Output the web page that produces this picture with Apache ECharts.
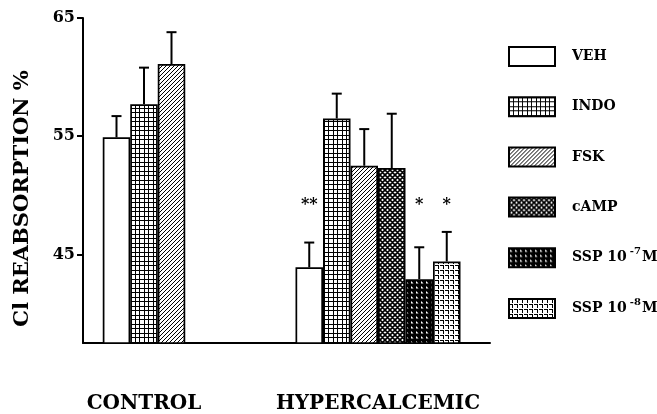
<!DOCTYPE html>
<html><head><meta charset="utf-8">
<script src="https://cdn.jsdelivr.net/npm/echarts@6/dist/echarts.min.js"></script>
<style>html,body{margin:0;padding:0;background:#fff}#c{width:657px;height:414px}</style>
</head><body><div id="c"></div>
<script>
// ---- data ----
const groups = ['CONTROL', 'HYPERCALCEMIC'];
const treatments = ['VEH', 'INDO', 'FSK', 'cAMP', 'SSP 10-7 M', 'SSP 10-8 M'];
const controlMeans = [54.9, 57.7, 61.1];
const controlErr = [1.8, 3.1, 2.7];
const hyperMeans = [43.9, 56.5, 52.5, 52.3, 42.9, 44.4];
const hyperErr = [2.1, 2.1, 3.1, 4.6, 2.7, 2.5];
const hyperSig = ['**', '', '', '', '*', '*'];
const yTicks = [45, 55, 65];
const yMin = 37.5, yMax = 65, starLevel = 49.2;

// ---- styles ----
const FONT = 'DejaVu Serif';
const BAR_W = 27.5;
function tile(w, h, bg, draw) {
  const c = document.createElement('canvas');
  c.width = w; c.height = h;
  const g = c.getContext('2d');
  g.fillStyle = bg; g.fillRect(0, 0, w, h);
  g.fillStyle = '#000'; g.strokeStyle = '#000';
  draw(g);
  return { image: c, repeat: 'repeat' };
}
const fills = [
  '#ffffff',
  tile(9, 9, '#fff', g => { g.fillRect(0, 0, 9, 1); g.fillRect(0, 4, 9, 1); g.fillRect(0, 0, 1, 9); g.fillRect(4, 0, 1, 9); }),
  tile(4, 4, '#fff', g => { g.lineWidth = 1; g.beginPath(); g.moveTo(-1, 5); g.lineTo(5, -1); g.moveTo(-1, 1); g.lineTo(1, -1); g.moveTo(3, 5); g.lineTo(5, 3); g.stroke(); }),
  tile(5, 5, '#fff', g => { g.lineWidth = 1.6; g.beginPath(); g.moveTo(-1, -1); g.lineTo(6, 6); g.moveTo(-1, 6); g.lineTo(6, -1); g.moveTo(-1, 4); g.lineTo(1, 6); g.moveTo(4, -1); g.lineTo(6, 1); g.moveTo(-1, 1); g.lineTo(1, -1); g.moveTo(4, 6); g.lineTo(6, 4); g.stroke(); }),
  tile(5, 5, '#000', g => { g.fillStyle = '#fff'; g.beginPath(); g.moveTo(1, 1); g.lineTo(1, 3.6); g.lineTo(3.6, 3.6); g.closePath(); g.fill(); }),
  tile(5, 5, '#fff', g => { g.fillRect(0, 0, 4, 1); g.fillRect(3, 0, 1, 4); })
];

function barSeries(gi, means) {
  return means.map((v, i) => ({
    name: treatments[i], type: 'bar', xAxisIndex: gi, yAxisIndex: gi,
    barWidth: BAR_W, barGap: '0%', data: [v],
    itemStyle: { color: fills[i], borderColor: '#000', borderWidth: 1.7 },
    silent: true
  }));
}
function errSeries(gi, means, errs, sig) {
  const n = means.length;
  return {
    type: 'custom', name: 'err' + gi, xAxisIndex: gi, yAxisIndex: gi, z: 5, silent: true,
    data: means.map((m, i) => [0, m, errs[i], i]),
    encode: { x: 0, y: 1 },
    renderItem(params, api) {
      const idx = api.value(3);
      const base = api.coord([0, api.value(1)]);
      const top = api.coord([0, api.value(1) + api.value(2)]);
      const x = base[0] + (idx - (n - 1) / 2) * BAR_W;
      const ch = [
        { type: 'line', shape: { x1: x, y1: base[1], x2: x, y2: top[1] }, style: { stroke: '#000', lineWidth: 2 } },
        { type: 'line', shape: { x1: x - 5, y1: top[1], x2: x + 5, y2: top[1] }, style: { stroke: '#000', lineWidth: 2 } }
      ];
      if (sig && sig[idx]) {
        const s = api.coord([0, starLevel]);
        ch.push({ type: 'text', style: { text: sig[idx], x: x, y: s[1], align: 'center', verticalAlign: 'middle', font: 'bold 16px "' + FONT + '"', fill: '#000' } });
      }
      return { type: 'group', children: ch };
    }
  };
}

const labelStyle = { fontFamily: FONT, fontWeight: 'bold', color: '#000' };
const chart = echarts.init(document.getElementById('c'));
chart.setOption({
  animation: false,
  backgroundColor: '#fff',
  grid: [
    { left: 83, top: 18, width: 407, height: 325 },
    { left: 83, top: 18, width: 122, height: 325 },
    { left: 266, top: 18, width: 224, height: 325 }
  ],
  xAxis: [
    { gridIndex: 0, type: 'value', min: 0, max: 1, axisLine: { show: true, onZero: false, lineStyle: { color: '#000', width: 2 } }, axisTick: { show: false }, axisLabel: { show: false }, splitLine: { show: false } },
    { gridIndex: 1, type: 'category', data: [groups[0]], axisLine: { show: false }, axisTick: { show: false }, axisLabel: Object.assign({ fontSize: 20, margin: 51 }, labelStyle) },
    { gridIndex: 2, type: 'category', data: [groups[1]], axisLine: { show: false }, axisTick: { show: false }, axisLabel: Object.assign({ fontSize: 20, margin: 51 }, labelStyle) }
  ],
  yAxis: [
    { gridIndex: 0, type: 'value', min: yMin, max: yMax,
      axisLine: { show: true, lineStyle: { color: '#000', width: 2 } },
      axisTick: { show: true, length: 6, customValues: yTicks, lineStyle: { color: '#000', width: 2 } },
      axisLabel: Object.assign({ fontSize: 16, margin: 8, customValues: yTicks }, labelStyle),
      splitLine: { show: false },
      name: 'Cl REABSORPTION %', nameLocation: 'middle', nameRotate: 90, nameGap: 50,
      nameTextStyle: Object.assign({ fontSize: 21, padding: [0, 36, 0, 0] }, labelStyle) },
    { gridIndex: 1, type: 'value', min: yMin, max: yMax, show: false },
    { gridIndex: 2, type: 'value', min: yMin, max: yMax, show: false }
  ],
  legend: {
    orient: 'vertical', left: 508, top: 46, padding: 0, itemWidth: 46, itemHeight: 19, itemGap: 29.2,
    icon: 'rect', data: treatments, selectedMode: false,
    itemStyle: { borderColor: '#000', borderWidth: 2 },
    formatter: name => { const m = name.match(/^SSP 10(-\d) M$/); return m ? 'SSP 10{sup|' + m[1] + '}M' : name; },
    textStyle: Object.assign({ fontSize: 14, padding: [0, 0, 0, 12], rich: { sup: { fontSize: 10, fontFamily: FONT, fontWeight: 'bold', color: '#000', padding: [0, 1, 12, 3] } } }, labelStyle)
  },
  series: [].concat(
    barSeries(1, controlMeans),
    barSeries(2, hyperMeans),
    [errSeries(1, controlMeans, controlErr, null), errSeries(2, hyperMeans, hyperErr, hyperSig)]
  )
});
</script></body></html>
